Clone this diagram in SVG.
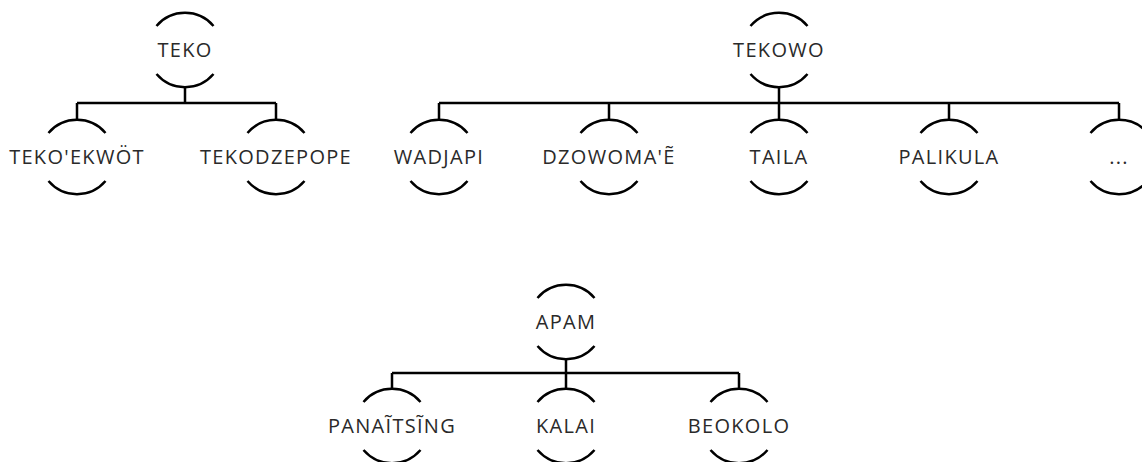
<svg xmlns="http://www.w3.org/2000/svg" xmlns:xlink="http://www.w3.org/1999/xlink" width="1142" height="462" viewBox="0 0 1142 462">
<style>
.arc{fill:none;stroke:#000;stroke-width:2.5}
.conn{fill:none;stroke:#000;stroke-width:2.5}
.lbl{font-family:"Open Sans","Noto Sans","DejaVu Sans",sans-serif;font-size:20px;font-weight:400;letter-spacing:1.3px;fill:#2a2a2a;text-anchor:middle}
</style>
<defs>
<path id="ring" class="arc" d="M-28.5,-24 A37.5,37.5 0 0 1 28.5,-24 M-28.5,24 A37.5,37.5 0 0 0 28.5,24"/>
</defs>
<rect width="1142" height="462" fill="#fff"/>
<g id="connectors">
<path class="conn" d="M185,87 V103 M77,103 H276 M77,103 V120 M276,103 V120"/>
<path class="conn" d="M779,87 V103 M439,103 H1119 M439,103 V120 M609,103 V120 M779,103 V120 M949,103 V120 M1119,103 V120"/>
<path class="conn" d="M566,359 V373 M392,373 H739 M392,373 V389 M566,373 V389 M739,373 V389"/>
</g>
<g id="teko"><use xlink:href="#ring" x="185" y="50"/><text class="lbl" x="185" y="57">TEKO</text></g>
<g id="teko-ekwot"><use xlink:href="#ring" x="77" y="157"/><text class="lbl" x="77" y="164">TEKO'EKWÖT</text></g>
<g id="tekodzepope"><use xlink:href="#ring" x="276" y="157"/><text class="lbl" x="276" y="164">TEKODZEPOPE</text></g>
<g id="tekowo"><use xlink:href="#ring" x="779" y="50"/><text class="lbl" x="779" y="57">TEKOWO</text></g>
<g id="wadjapi"><use xlink:href="#ring" x="439" y="157"/><text class="lbl" x="439" y="164">WADJAPI</text></g>
<g id="dzowomae"><use xlink:href="#ring" x="609" y="157"/><text class="lbl" x="609" y="164">DZOWOMA'Ẽ</text></g>
<g id="taila"><use xlink:href="#ring" x="779" y="157"/><text class="lbl" x="779" y="164">TAILA</text></g>
<g id="palikula"><use xlink:href="#ring" x="949" y="157"/><text class="lbl" x="949" y="164">PALIKULA</text></g>
<g id="more"><use xlink:href="#ring" x="1119" y="157"/><text class="lbl" x="1119" y="164">...</text></g>
<g id="apam"><use xlink:href="#ring" x="566" y="322"/><text class="lbl" x="566" y="329">APAM</text></g>
<g id="panaitsing"><use xlink:href="#ring" x="392" y="426"/><text class="lbl" x="392" y="433">PANAĨTSĨNG</text></g>
<g id="kalai"><use xlink:href="#ring" x="566" y="426"/><text class="lbl" x="566" y="433">KALAI</text></g>
<g id="beokolo"><use xlink:href="#ring" x="739" y="426"/><text class="lbl" x="739" y="433">BEOKOLO</text></g>
</svg>
